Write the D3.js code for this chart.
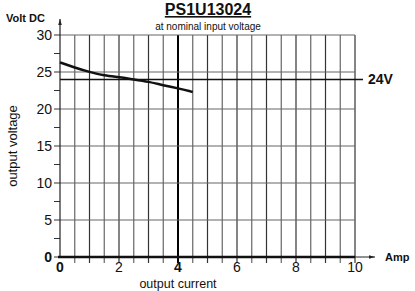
<!DOCTYPE html>
<html>
<head>
<meta charset="utf-8">
<script src="https://cdn.jsdelivr.net/npm/d3@7"></script>
<style>
  body { margin: 0; background: #fff; }
  text { font-family: "Liberation Sans", Arial, sans-serif; fill: #111; }
</style>
</head>
<body>
<div id="chart"></div>
<script>
const currents = [0, 0.5, 1, 1.5, 2, 2.5, 3, 3.5, 4, 4.5];
const voltages = [26.3, 25.6, 25.0, 24.5, 24.3, 24.0, 23.7, 23.2, 22.8, 22.3];
const xTicks = [0, 2, 4, 6, 8, 10];
const yTicks = [0, 5, 10, 15, 20, 25, 30];
const nominal = 24;

const width = 415, height = 291;
const margin = { top: 35, right: 60, bottom: 34, left: 60 };

const svg = d3.select("#chart").append("svg")
    .attr("width", width)
    .attr("height", height);

const x = d3.scaleLinear().domain([0, 10]).range([margin.left, width - margin.right]);
const y = d3.scaleLinear().domain([0, 30]).range([height - margin.bottom, margin.top]);

const grid = svg.append("g");

// vertical grid every 0.5 A
grid.selectAll("line.v")
    .data(d3.range(0.5, 10.01, 0.5))
    .enter().append("line")
    .attr("x1", d => x(d)).attr("x2", d => x(d))
    .attr("y1", y(30)).attr("y2", y(0) + 6)
    .attr("stroke", d => d === 4 ? "#000" : (d % 1 === 0 ? "#333" : "#666"))
    .attr("stroke-width", d => d === 4 ? 2 : 1.2);

// horizontal grid
grid.selectAll("line.h")
    .data([5, 10, 15, 20, 25, 30])
    .enter().append("line")
    .attr("x1", x(0)).attr("x2", x(10))
    .attr("y1", d => y(d)).attr("y2", d => y(d))
    .attr("stroke", "#666")
    .attr("stroke-width", 1.2);

// y ticks on left, every 2.5
grid.selectAll("line.yt")
    .data(d3.range(0, 30.01, 2.5))
    .enter().append("line")
    .attr("x1", x(0) - 6).attr("x2", x(0))
    .attr("y1", d => y(d)).attr("y2", d => y(d))
    .attr("stroke", "#333");

// 24V line
svg.append("line")
    .attr("x1", x(0)).attr("x2", x(10) + 8)
    .attr("y1", y(nominal)).attr("y2", y(nominal))
    .attr("stroke", "#111").attr("stroke-width", 1.5);

svg.append("text")
    .attr("x", x(10) + 13).attr("y", y(nominal) + 5)
    .style("font-size", "14px").style("font-weight", "bold")
    .text("24V");

// axes
const defs = svg.append("defs");
defs.append("marker").attr("id", "arr")
    .attr("viewBox", "0 0 10 10").attr("refX", 10).attr("refY", 5)
    .attr("markerWidth", 10).attr("markerHeight", 6).attr("orient", "auto")
    .attr("markerUnits", "userSpaceOnUse")
    .append("path").attr("d", "M0,2 L10,5 L0,8 Z").attr("fill", "#222");

svg.append("line")
    .attr("x1", x(0)).attr("x2", x(0))
    .attr("y1", y(0)).attr("y2", margin.top - 16)
    .attr("stroke", "#222").attr("stroke-width", 1.2)
    .attr("marker-end", "url(#arr)");

svg.append("line")
    .attr("x1", x(0) - 2).attr("x2", x(10))
    .attr("y1", y(0)).attr("y2", y(0))
    .attr("stroke", "#111").attr("stroke-width", 2.5);
svg.append("line")
    .attr("x1", x(10)).attr("x2", x(10) + 20)
    .attr("y1", y(0)).attr("y2", y(0))
    .attr("stroke", "#222").attr("stroke-width", 1)
    .attr("marker-end", "url(#arr)");

svg.append("text")
    .attr("x", x(10) + 30).attr("y", y(0) + 4)
    .style("font-size", "11px").style("font-weight", "bold")
    .text("Amp");

// tick labels
svg.selectAll("text.yl")
    .data(yTicks)
    .enter().append("text")
    .attr("x", x(0) - 8).attr("y", d => y(d) + 5)
    .attr("text-anchor", "end")
    .style("font-size", "14px")
    .style("font-weight", d => d === 0 ? "bold" : "normal")
    .text(d => d);

svg.selectAll("text.xl")
    .data(xTicks)
    .enter().append("text")
    .attr("x", d => x(d)).attr("y", y(0) + 15)
    .attr("text-anchor", "middle")
    .style("font-size", "14px")
    .style("font-weight", d => (d === 0 || d === 4) ? "bold" : "normal")
    .text(d => d);

// curve
const line = d3.line()
    .x((d, i) => x(currents[i]))
    .y(d => y(d))
    .curve(d3.curveBasis);

svg.append("path")
    .datum(voltages)
    .attr("d", line)
    .attr("fill", "none")
    .attr("stroke", "#111")
    .attr("stroke-width", 2.5);

// titles
svg.append("text")
    .attr("x", 208).attr("y", 15)
    .attr("text-anchor", "middle")
    .style("font-size", "16px").style("font-weight", "bold")
    .style("text-decoration", "underline")
    .text("PS1U13024");

svg.append("text")
    .attr("x", 208).attr("y", 30)
    .attr("text-anchor", "middle")
    .style("font-size", "10px")
    .text("at nominal input voltage");

svg.append("text")
    .attr("x", 6).attr("y", 22)
    .style("font-size", "11px").style("font-weight", "bold")
    .text("Volt DC");

svg.append("text")
    .attr("transform", `translate(17, ${y(15)}) rotate(-90)`)
    .attr("text-anchor", "middle")
    .style("font-size", "13px")
    .text("output voltage");

svg.append("text")
    .attr("x", x(4)).attr("y", 288)
    .attr("text-anchor", "middle")
    .style("font-size", "12.5px")
    .text("output current");
</script>
</body>
</html>
